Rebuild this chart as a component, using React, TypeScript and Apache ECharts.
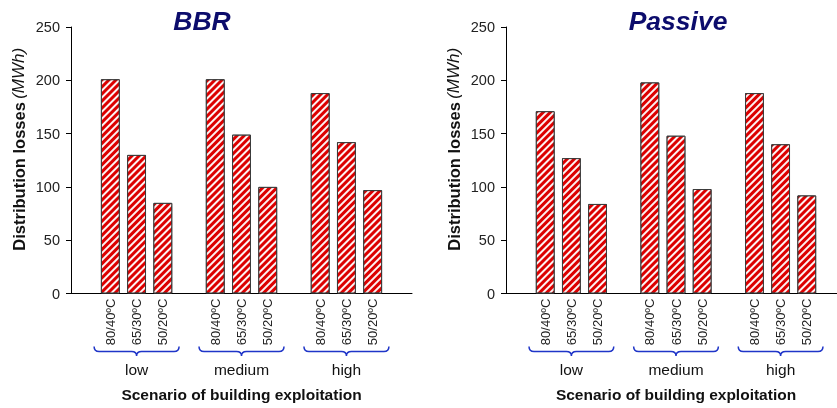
import React, { useEffect, useRef } from 'react';
import * as echarts from 'echarts';

const tempLevels = ['80/40ºC', '65/30ºC', '50/20ºC'];
const scenarios = ['low', 'medium', 'high'];
const bbrLosses = [201, 130, 85, 201, 149, 100, 188, 142, 97];
const passiveLosses = [171, 127, 84, 198, 148, 98, 188, 140, 92];
const yTickValues = [0, 50, 100, 150, 200, 250];
const panelTitles = ['BBR', 'Passive'];
const yAxisTitle = ['Distribution losses', '(MWh)'];
const xAxisTitle = 'Scenario of building exploitation';

const FONT = '"Liberation Sans", Arial, sans-serif';

function buildSlots(values: number[]) {
  const cats: string[] = [];
  const data: (number | string)[] = [];
  scenarios.forEach((s, g) => {
    cats.push('gap' + g);
    data.push('-');
    tempLevels.forEach((t, i) => {
      cats.push(s + '|' + t);
      data.push(values[g * tempLevels.length + i]);
    });
  });
  cats.push('gap' + scenarios.length);
  data.push('-');
  return { cats, data };
}

const braceD = 'M0,0 Q0,5 5,5 L37.5,5 Q42.5,5 42.5,9.5 Q42.5,5 47.5,5 L80,5 Q85,5 85,0';
echarts.graphic.registerShape('brace', echarts.graphic.extendPath(braceD, {}));

export default function App() {
  const ref = useRef<HTMLDivElement>(null);
  useEffect(() => {
    if (!ref.current) return;
    const chart = echarts.init(ref.current, undefined, { renderer: 'svg' });
    const panels = [buildSlots(bbrLosses), buildSlots(passiveLosses)];
    const grids = [
      { left: 71, top: 27, width: 341, height: 266.5, outerBoundsMode: 'none', containLabel: false },
      { left: 506, top: 27, width: 340, height: 266.5, outerBoundsMode: 'none', containLabel: false },
    ];
    const yMin = yTickValues[0];
    const yMax = yTickValues[yTickValues.length - 1];
    const yInt = yTickValues[1] - yTickValues[0];

    chart.setOption({
      animation: false,
      grid: grids,
      xAxis: panels.map((p, i) => ({
        type: 'category',
        gridIndex: i,
        data: p.cats,
        axisTick: { show: false },
        axisLine: { lineStyle: { color: '#000', width: 1 } },
        axisLabel: {
          interval: 0,
          rotate: 90,
          margin: 5,
          fontSize: 13,
          fontFamily: FONT,
          color: '#222',
          formatter: (v: string) => (v.startsWith('gap') ? '' : v.split('|')[1]),
        },
        name: xAxisTitle,
        nameLocation: 'middle',
        nameGap: 93,
        nameTextStyle: { fontSize: 15.5, fontWeight: 'bold', fontFamily: FONT, color: '#111' },
      })),
      yAxis: panels.map((p, i) => ({
        type: 'value',
        gridIndex: i,
        min: yMin,
        max: yMax,
        interval: yInt,
        splitLine: { show: false },
        axisLine: { show: true, lineStyle: { color: '#000', width: 1 } },
        axisTick: { show: true, length: 5, lineStyle: { color: '#000' } },
        axisLabel: { fontSize: 14.5, fontFamily: FONT, color: '#222', margin: 11 },
        name: '{b|' + yAxisTitle[0] + '} {i|' + yAxisTitle[1] + '}',
        nameLocation: 'middle',
        nameRotate: 90,
        nameGap: 44,
        nameTextStyle: {
          padding: [0, 0, 0, 22],
          rich: {
            b: { fontSize: 16.5, fontWeight: 'bold', fontFamily: FONT, color: '#111' },
            i: { fontSize: 17, fontStyle: 'italic', fontFamily: FONT, color: '#111' },
          },
        },
      })),
      series: panels.map((p, i) => ({
        type: 'bar',
        xAxisIndex: i,
        yAxisIndex: i,
        data: p.data,
        barWidth: '72%',
        itemStyle: {
          color: '#dc0000',
          borderColor: '#3a3a3a',
          borderWidth: 1,
          decal: {
            symbol: 'rect',
            symbolSize: 1,
            dashArrayX: [1, 0],
            dashArrayY: [2, 2.4],
            rotation: -Math.PI / 4,
            color: 'rgba(255,255,255,0.95)',
          },
        },
      })),
    });

    const graphics: any[] = [];
    const titleX = [202, 678];
    panels.forEach((p, pi) => {
      graphics.push({
        type: 'text',
        x: titleX[pi],
        y: 21,
        style: {
          text: panelTitles[pi],
          fontSize: 26.5,
          fontWeight: 'bold',
          fontStyle: 'italic',
          fontFamily: FONT,
          fill: '#0c0c6c',
          textAlign: 'center',
          textVerticalAlign: 'middle',
        },
      });
      const y0 = chart.convertToPixel({ yAxisIndex: pi }, 0) as number;
      scenarios.forEach((s, g) => {
        const base = g * 4;
        const mid = chart.convertToPixel({ xAxisIndex: pi }, base + 2) as number;
        const step = (chart.convertToPixel({ xAxisIndex: pi }, base + 3) as number) - mid;
        const half = step * 1.62;
        graphics.push({
          type: 'brace',
          x: mid - half,
          y: y0 + 53,
          scaleX: (2 * half) / 85,
          scaleY: 1,
          style: { fill: 'none', stroke: '#1f35c8', lineWidth: 1.5, strokeNoScale: true },
        });
        graphics.push({
          type: 'text',
          x: mid,
          y: y0 + 75.5,
          style: {
            text: s,
            fontSize: 15.5,
            fontFamily: FONT,
            fill: '#111',
            textAlign: 'center',
            textVerticalAlign: 'middle',
          },
        });
      });
    });
    chart.setOption({ graphic: graphics });

    return () => chart.dispose();
  }, []);
  return (
    <div
      ref={ref}
      style={{ position: 'fixed', left: 0, top: 0, width: 837, height: 408 }}
    />
  );
}
